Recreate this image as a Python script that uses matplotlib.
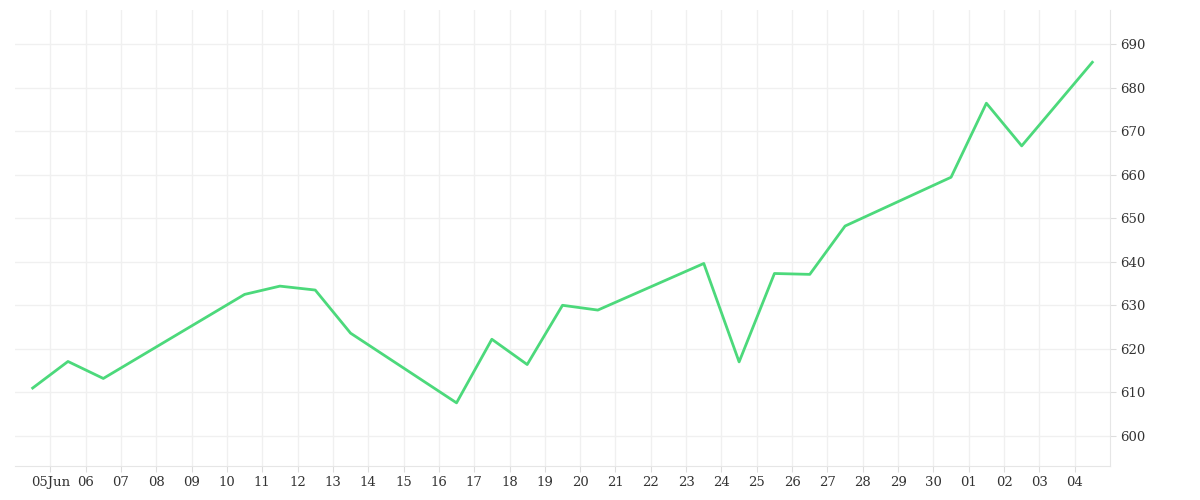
import numpy as np
import matplotlib
matplotlib.use("Agg")
import matplotlib.pyplot as plt
import matplotlib.dates as mdates
import datetime as dt

# data: (date, value), points sit at noon
dates = ["2023-06-04", "2023-06-05", "2023-06-06", "2023-06-10", "2023-06-11",
         "2023-06-12", "2023-06-13", "2023-06-16", "2023-06-17", "2023-06-18",
         "2023-06-19", "2023-06-20", "2023-06-23", "2023-06-24", "2023-06-25",
         "2023-06-26", "2023-06-27", "2023-06-30", "2023-07-01", "2023-07-02",
         "2023-07-04"]
values = [611.0, 617.1, 613.2, 632.5, 634.4, 633.5, 623.6, 607.6, 622.2, 616.4,
          630.0, 628.9, 639.6, 617.0, 637.3, 637.1, 648.2, 659.4, 676.4, 666.6,
          685.8]
yticks = [600, 610, 620, 630, 640, 650, 660, 670, 680, 690]

x = [dt.datetime.strptime(d, "%Y-%m-%d") + dt.timedelta(hours=12) for d in dates]

fig = plt.figure(figsize=(12, 5), dpi=100)
ax = fig.add_axes([0.0125, 0.068, 0.9125, 0.912])
ax.plot(x, values, color="#4cd97b", lw=2)

ax.set_xlim(dt.datetime(2023, 6, 4), dt.datetime(2023, 7, 5))
ax.set_ylim(593.1, 697.8)
ax.set_yticks(yticks)

ticks = [dt.datetime(2023, 6, 5) + dt.timedelta(days=i) for i in range(30)]
ax.set_xticks(ticks)
ax.set_xticklabels(["05Jun" if i == 0 else t.strftime("%d") for i, t in enumerate(ticks)])

ax.yaxis.tick_right()
ax.grid(True, color="#f0f0f0", lw=1)
for s in ax.spines.values():
    s.set_visible(False)
for side in ("right", "bottom"):
    ax.spines[side].set_visible(True)
    ax.spines[side].set_color("#e6e6e6")
ax.tick_params(axis="both", length=4, color="#dddddd", labelcolor="#333333",
               labelsize=9.5)
for lab in ax.get_xticklabels() + ax.get_yticklabels():
    lab.set_family("DejaVu Serif")

fig.savefig("out.png")
